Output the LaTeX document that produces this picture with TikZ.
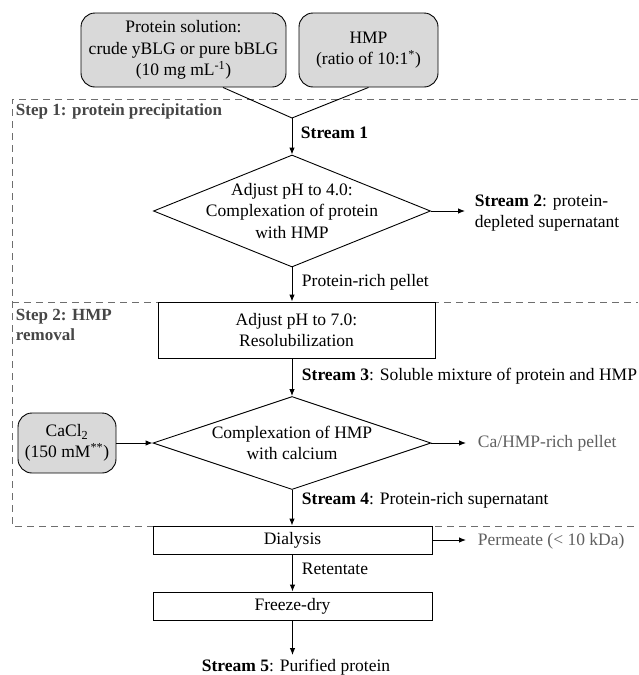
\documentclass[tikz,border=0pt]{standalone}
\usepackage{fontspec}
\setmainfont{Liberation Serif}
\usetikzlibrary{shapes.geometric,arrows.meta}
\begin{document}
\begin{tikzpicture}[x=1pt,y=1pt,yscale=-1,xscale=1,
    txt/.style={inner sep=0.75pt,font=\fontsize{17.5}{21.5}\selectfont},
    steptxt/.style={txt,font=\fontsize{17}{20}\selectfont\bfseries,color={rgb,255:red,70;green,70;blue,70},align=left},
    outtxt/.style={txt,color={rgb,255:red,95;green,95;blue,95}},
    feed/.style={txt,draw,line width=0.9pt,rounded corners=14pt,fill={rgb,255:red,217;green,217;blue,217},align=center},
    procbox/.style={txt,draw,line width=0.9pt,fill=white,align=center},
    dmd/.style={draw,diamond,line width=0.9pt,inner sep=0pt,fill=white},
    flow/.style={line width=0.9pt,-{Latex[length=7pt,width=5.5pt]}},
    stepline/.style={color={rgb,255:red,110;green,110;blue,110},line width=0.8pt,dash pattern=on 7pt off 5pt}
]
\useasboundingbox (0,0) rectangle (638,675);

%Straight Lines: step frames
\draw[stepline] (638,99) -- (12,99) -- (12,526) -- (638,526);
\draw[stepline] (12,302) -- (638,302);
% Text Node
\node[steptxt,anchor=west] (st1) at (15,111) {Step 1: protein precipitation};
% Text Node
\node[steptxt,anchor=west] (st2) at (15,325) {Step 2: HMP\\removal};

%Shape: Rounded rectangles (feeds)
\node[feed,minimum width=205pt,minimum height=74pt] (prot) at (183.5,50) {Protein solution:\\crude yBLG or pure bBLG\\(10 mg mL\textsuperscript{-1})};
\node[feed,minimum width=139pt,minimum height=74pt] (hmp) at (368.5,50) {HMP\\(ratio of 10:1\textsuperscript{*})};
\coordinate (join) at (292,118);
\draw[line width=0.9pt] ([xshift=39.5pt]prot.south) -- (join) -- (hmp.south);

%Shape: Diamond 1
\node[dmd,minimum width=277pt,minimum height=112pt] (dia1) at (292,211) {};
\node[txt,align=center] (dia1txt) at (dia1.center) {Adjust pH to 4.0:\\Complexation of protein\\with HMP};
\draw[flow] (join) -- (dia1.north);
% Text Node
\node[txt,anchor=west] (s1) at (300,133) {\textbf{Stream 1}};
% Text Node
\node[txt,anchor=west,align=left] (s2) at (474,213) {\textbf{Stream 2}: protein-\\depleted supernatant};
\draw[flow,shorten >=9pt] (dia1.east) -- (dia1.east -| s2.west);

%Shape: Rectangle
\node[procbox,minimum width=277pt,minimum height=56pt] (res) at (296.5,330) {Adjust pH to 7.0:\\Resolubilization};
\draw[flow] (dia1.south) -- (dia1.south |- res.north);
% Text Node
\node[txt,anchor=west] (pel) at (301,282) {Protein-rich pellet};

%Shape: Diamond 2
\node[dmd,minimum width=278pt,minimum height=93pt] (dia2) at (292,443) {};
\node[txt,align=center] (dia2txt) at (dia2.center) {Complexation of HMP\\with calcium};
\draw[flow] (res.south -| dia2.north) -- (dia2.north);
% Text Node
\node[txt,anchor=west] (s3) at (301,376) {\textbf{Stream 3}: Soluble mixture of protein and HMP};

%Shape: Rounded rectangle (calcium)
\node[feed,minimum width=98pt,minimum height=60pt] (cacl) at (67,443) {CaCl\textsubscript{2}\\(150 mM\textsuperscript{**})};
\draw[flow] (cacl.east) -- (dia2.west);
% Text Node
\node[outtxt,anchor=west] (capel) at (477,443) {Ca/HMP-rich pellet};
\draw[flow,shorten >=11pt] (dia2.east) -- (capel.west);

%Shape: Rectangle
\node[procbox,minimum width=279pt,minimum height=28pt] (dial) at (292.5,540) {Dialysis};
\draw[flow] (dia2.south) -- (dia2.south |- dial.north);
% Text Node
\node[txt,anchor=west] (s4) at (301,500) {\textbf{Stream 4}: Protein-rich supernatant};
% Text Node
\node[outtxt,anchor=west] (perm) at (477,541) {Permeate (< 10 kDa)};
\draw[flow,shorten >=11pt] (dial.east) -- (dial.east -| perm.west);

%Shape: Rectangle
\node[procbox,minimum width=279pt,minimum height=28pt] (frz) at (292.5,606) {Freeze-dry};
\draw[flow] (dial.south) -- (frz.north);
% Text Node
\node[txt,anchor=west] (ret) at (301,569) {Retentate};
% Text Node
\node[txt] (s5) at (296,667) {\textbf{Stream 5}: Purified protein};
\draw[flow,shorten >=3pt] (frz.south) -- (frz.south |- s5.north);
\end{tikzpicture}
\end{document}
